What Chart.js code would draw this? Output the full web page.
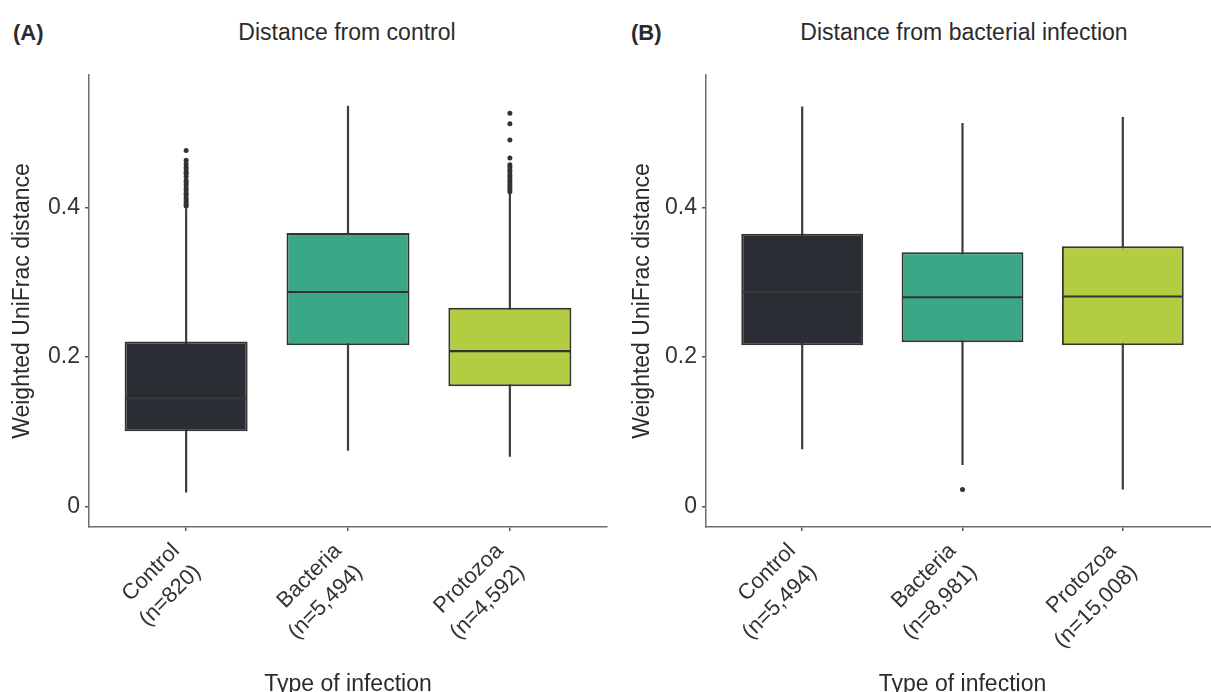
<!DOCTYPE html>
<html>
<head>
<meta charset="utf-8">
<title>Weighted UniFrac distance by type of infection</title>
<script src="https://cdn.jsdelivr.net/npm/chart.js@4.4.1/dist/chart.umd.min.js"></script>
<style>
  html, body { margin: 0; padding: 0; background: #fff; width: 1211px; height: 692px; overflow: hidden; }
  body { position: relative; font-family: "Liberation Sans", Arial, sans-serif; color: #2b2b2b; }
  canvas { position: absolute; top: 0; }
  #chartA { left: 0; }
  #chartB { left: 620px; }
  .tag { position: absolute; top: 20px; font-weight: bold; font-size: 22px; }
  .ttl { position: absolute; top: 19px; font-size: 23px; transform: translateX(-50%); white-space: nowrap; }
</style>
</head>
<body>
<div class="tag" style="left:13px">(A)</div>
<div class="ttl" style="left:347px">Distance from control</div>
<div class="tag" style="left:631px">(B)</div>
<div class="ttl" style="left:964px">Distance from bacterial infection</div>
<canvas id="chartA" width="620" height="700"></canvas>
<canvas id="chartB" width="603" height="700"></canvas>
<script>
const categories = ['Control', 'Bacteria', 'Protozoa'];
const boxColors = ['#2a2d34', '#3aa886', '#b2cd42'];
const yTicks = [0, 0.2, 0.4];

// (A) distance from control
const countsA = ['820', '5,494', '4,592'];
const lowA = [0.019, 0.075, 0.067];
const q1A = [0.101, 0.216, 0.161];
const medA = [0.145, 0.287, 0.208];
const q3A = [0.221, 0.366, 0.266];
const highA = [0.399, 0.536, 0.418];
const outControlA = [0.476, 0.463, 0.458, 0.454, 0.451, 0.447, 0.445, 0.441, 0.436, 0.433, 0.430,
                     0.426, 0.423, 0.419, 0.417, 0.413, 0.410, 0.407, 0.404, 0.402];
const outBacteriaA = [];
const outProtozoaA = [0.526, 0.512, 0.490, 0.466, 0.457, 0.454, 0.450, 0.447, 0.443, 0.440, 0.436,
                      0.433, 0.430, 0.427, 0.424, 0.421];

// (B) distance from bacterial infection
const countsB = ['5,494', '8,981', '15,008'];
const lowB = [0.077, 0.056, 0.023];
const q1B = [0.216, 0.220, 0.216];
const medB = [0.287, 0.280, 0.281];
const q3B = [0.365, 0.340, 0.348];
const highB = [0.535, 0.513, 0.521];
const outControlB = [];
const outBacteriaB = [0.023];
const outProtozoaB = [];

const family = '"Liberation Sans", Arial, sans-serif';

// whiskers go behind the boxes, medians on top
function boxParts(low, high, median) {
    return {
        id: 'boxParts',
        beforeDatasetsDraw(chart) {
            const { ctx, scales: { x, y } } = chart;
            ctx.save();
            ctx.strokeStyle = '#3d3d3d';
            ctx.lineWidth = 2.2;
            low.forEach((v, i) => {
                const px = x.getPixelForValue(i);
                ctx.beginPath();
                ctx.moveTo(px, y.getPixelForValue(v));
                ctx.lineTo(px, y.getPixelForValue(high[i]));
                ctx.stroke();
            });
            ctx.restore();
        },
        afterDatasetsDraw(chart) {
            const { ctx, scales: { y } } = chart;
            const bars = chart.getDatasetMeta(0).data;
            ctx.save();
            ctx.lineWidth = 2.2;
            median.forEach((v, i) => {
                const bar = bars[i];
                const py = y.getPixelForValue(v);
                ctx.strokeStyle = i === 0 ? '#3b3935' : '#333333';
                ctx.beginPath();
                ctx.moveTo(bar.x - bar.width / 2 + 1, py);
                ctx.lineTo(bar.x + bar.width / 2 - 1, py);
                ctx.stroke();
            });
            ctx.restore();
        }
    };
}

function axisLook() {
    return {
        grid: { offset: false, drawOnChartArea: false, drawTicks: true, tickLength: 4, color: '#555', lineWidth: 1.5 },
        border: { display: true, color: '#6e6e6e', width: 1.5 },
    };
}

function renderPanel(canvasId, axisWidth, rightPad, counts, low, q1, med, q3, high, outliers) {
    const ctx = document.getElementById(canvasId);
    const boxes = categories.map((c, i) => ({ x: i, y: [q1[i], q3[i]] }));
    const points = [];
    outliers.forEach((list, i) => list.forEach(v => points.push({ x: i, y: v })));

    return new Chart(ctx, {
        type: 'bar',
        data: {
            datasets: [
                {
                    type: 'bar',
                    data: boxes,
                    backgroundColor: boxColors,
                    borderColor: '#333333',
                    borderWidth: 2,
                    borderSkipped: false,
                    categoryPercentage: 1,
                    barPercentage: 0.76,
                },
                {
                    type: 'scatter',
                    data: points,
                    pointRadius: 2.5,
                    pointBackgroundColor: '#333333',
                    pointBorderWidth: 0,
                },
            ],
        },
        options: {
            responsive: false,
            animation: false,
            devicePixelRatio: 1,
            layout: { padding: { top: 75, left: 0, right: rightPad, bottom: 0 } },
            plugins: { legend: { display: false }, tooltip: { enabled: false } },
            scales: {
                x: {
                    type: 'linear',
                    offset: false,
                    min: -0.6,
                    max: 2.6,
                    afterBuildTicks: s => { s.ticks = categories.map((c, i) => ({ value: i })); },
                    afterFit: s => { s.height = 173; },
                    ticks: {
                        callback: v => [categories[v], '(n=' + counts[v] + ')'],
                        minRotation: 45,
                        maxRotation: 45,
                        autoSkip: false,
                        padding: 6,
                        labelOffset: -10,
                        color: '#333',
                        font: { family, size: 22, lineHeight: 1.36 },
                    },
                    title: {
                        display: true,
                        text: 'Type of infection',
                        color: '#2b2b2b',
                        font: { family, size: 23 },
                        padding: { top: 0, bottom: 2 },
                    },
                    ...axisLook(),
                },
                y: {
                    min: -0.027,
                    max: 0.577,
                    afterBuildTicks: s => { s.ticks = yTicks.map(v => ({ value: v })); },
                    afterFit: s => { s.width = axisWidth; },
                    ticks: {
                        callback: v => String(v),
                        padding: 5,
                        color: '#333',
                        font: { family, size: 23 },
                    },
                    title: {
                        display: true,
                        text: 'Weighted UniFrac distance',
                        color: '#2b2b2b',
                        font: { family, size: 23 },
                        padding: { top: 9, bottom: 0 },
                    },
                    ...axisLook(),
                },
            },
        },
        plugins: [boxParts(low, high, med)],
    });
}

renderPanel('chartA', 89, 13, countsA, lowA, q1A, medA, q3A, highA,
    [outControlA, outBacteriaA, outProtozoaA]);
renderPanel('chartB', 86, 0, countsB, lowB, q1B, medB, q3B, highB,
    [outControlB, outBacteriaB, outProtozoaB]);
</script>
</body>
</html>
